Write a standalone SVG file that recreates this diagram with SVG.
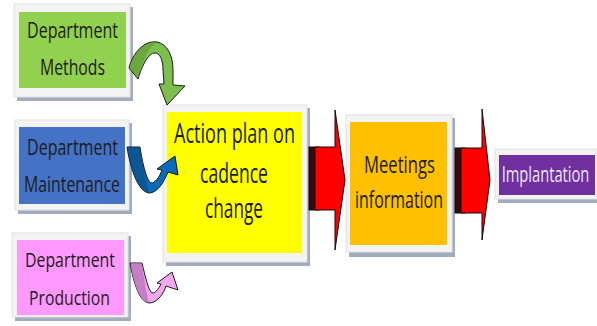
<svg xmlns="http://www.w3.org/2000/svg" width="597" height="326" viewBox="0 0 597 326">
  <defs>
    <style>
      .shadow { fill: #A3ABBE; }
      .frame { fill: #F3F3F3; stroke: #E2E2E2; stroke-width: 1; }
      .lbl { font-family: "Open Sans", "Noto Sans", "Liberation Sans", sans-serif; fill: #1C1C1C; text-anchor: middle; }
      .curve { stroke: #1A1A1A; stroke-width: 1; stroke-linejoin: round; }
      .dark { fill: #3A0808; stroke: #111; stroke-width: 1; }
      .red { fill: #FF0000; stroke: #111; stroke-width: 1; stroke-linejoin: miter; }
    </style>
  </defs>

  <rect width="597" height="326" fill="#FFFFFF"/>

  <!-- Department Methods -->
  <g id="dept-methods">
    <rect class="shadow" x="17" y="7" width="116" height="94"/>
    <rect class="frame" x="14" y="4" width="116" height="93"/>
    <rect x="19" y="12" width="107" height="76" fill="#92D050"/>
    <text class="lbl" x="72.5" y="38" font-size="21" textLength="91" lengthAdjust="spacingAndGlyphs">Department</text>
    <text class="lbl" x="72.5" y="75" font-size="21" textLength="65" lengthAdjust="spacingAndGlyphs">Methods</text>
  </g>

  <!-- Department Maintenance -->
  <g id="dept-maintenance">
    <rect class="shadow" x="18" y="123" width="114" height="91"/>
    <rect class="frame" x="15" y="120" width="114" height="90"/>
    <rect x="19" y="127" width="106" height="77" fill="#4472C4"/>
    <text class="lbl" x="72.5" y="155" font-size="21" textLength="91" lengthAdjust="spacingAndGlyphs">Department</text>
    <text class="lbl" x="72" y="192" font-size="21" textLength="96" lengthAdjust="spacingAndGlyphs">Maintenance</text>
  </g>

  <!-- Department Production -->
  <g id="dept-production">
    <rect class="shadow" x="15" y="236" width="116" height="85"/>
    <rect class="frame" x="12" y="233" width="116" height="84"/>
    <rect x="17" y="240" width="107" height="75" fill="#FF99FF"/>
    <text class="lbl" x="70" y="267" font-size="20" textLength="90" lengthAdjust="spacingAndGlyphs">Department</text>
    <text class="lbl" x="69.5" y="305" font-size="20" textLength="81" lengthAdjust="spacingAndGlyphs">Production</text>
  </g>

  <!-- Action plan -->
  <g id="action-plan">
    <rect class="shadow" x="166" y="108" width="144" height="158"/>
    <rect class="frame" x="163" y="105" width="144" height="157"/>
    <rect x="167" y="112" width="135" height="141" fill="#FFFF00"/>
    <text class="lbl" x="234.5" y="143" font-size="28" textLength="121" lengthAdjust="spacingAndGlyphs">Action plan on</text>
    <text class="lbl" x="234" y="183" font-size="28" textLength="68" lengthAdjust="spacingAndGlyphs">cadence</text>
    <text class="lbl" x="234" y="218" font-size="28" textLength="58" lengthAdjust="spacingAndGlyphs">change</text>
  </g>

  <!-- Meetings information -->
  <g id="meetings">
    <rect class="shadow" x="349" y="118" width="106" height="139"/>
    <rect class="frame" x="346" y="115" width="106" height="137"/>
    <rect x="350" y="122" width="97" height="123" fill="#FFC000"/>
    <text class="lbl" x="399.5" y="173" font-size="24" textLength="71" lengthAdjust="spacingAndGlyphs">Meetings</text>
    <text class="lbl" x="399" y="208" font-size="24" textLength="88" lengthAdjust="spacingAndGlyphs">information</text>
  </g>

  <!-- Implantation -->
  <g id="implantation">
    <rect class="shadow" x="498" y="152" width="99" height="51"/>
    <rect class="frame" x="495" y="149" width="102" height="50"/>
    <rect x="499" y="155" width="96" height="40" fill="#7030A0"/>
    <text class="lbl" transform="translate(545.5,182) scale(0.7,1)" x="0" y="0" font-size="21" style="fill:#EEE8F4">Implantation</text>
  </g>

  <!-- Connectors -->
  <g id="connectors">
    <!-- curved arrow: Methods to Action plan -->
    <path class="curve" fill="#7DBE4C" d="M129,68 C133,52 145,40 157,42 C167,44 173,55 173,70 L173,85 L185,86 L167,105 L159,84 L164,84 L163,70 C163,60 160,53 155,53 C148,53 142,66 138,79 Z"/>
    <path fill="#5E9A35" opacity="0.6" d="M129.5,68 C133,53 145,41 156,43 C149,46 142,62 138,78 Z"/>

    <!-- curved arrow: Maintenance to Action plan -->
    <path class="curve" fill="#0A6CB8" d="M127,147 C131,172 139,193 150,193 C158,192 164,182 168,172 L178,175 L175,156 L157,169 L162,170 C159,178 155,183 151,183 C146,180 142,160 140,147 Z"/>
    <path fill="#0B4E86" opacity="0.7" d="M127.5,147.5 C131,172 139,192 149,192.5 C146,182 142,162 139.5,147.5 Z"/>

    <!-- curved arrow: Production to Action plan -->
    <path class="curve" fill="#F5A6F2" d="M130,263 C134,285 140,303 150,303 C158,302 164,293 166,286 L178,290 L172,272 L157,283 L161,284 C158,290 155,293 152,293 C148,290 145,275 142,263 Z"/>
    <path fill="#C077C0" opacity="0.85" d="M130.5,263.5 C134,285 140,302 149,302.5 C146,292 144,276 141.5,263.5 Z"/>

    <!-- block arrow: Action plan to Meetings -->
    <rect class="dark" x="309" y="147" width="10" height="63"/>
    <polygon class="red" points="315,147 335,147 335,110 345,180 335,250 335,210 315,210"/>

    <!-- block arrow: Meetings to Implantation -->
    <rect class="dark" x="455" y="148" width="10" height="65"/>
    <polygon class="red" points="461,148 482,148 482,109 490,180 482,240 482,213 461,213"/>
  </g>
</svg>
